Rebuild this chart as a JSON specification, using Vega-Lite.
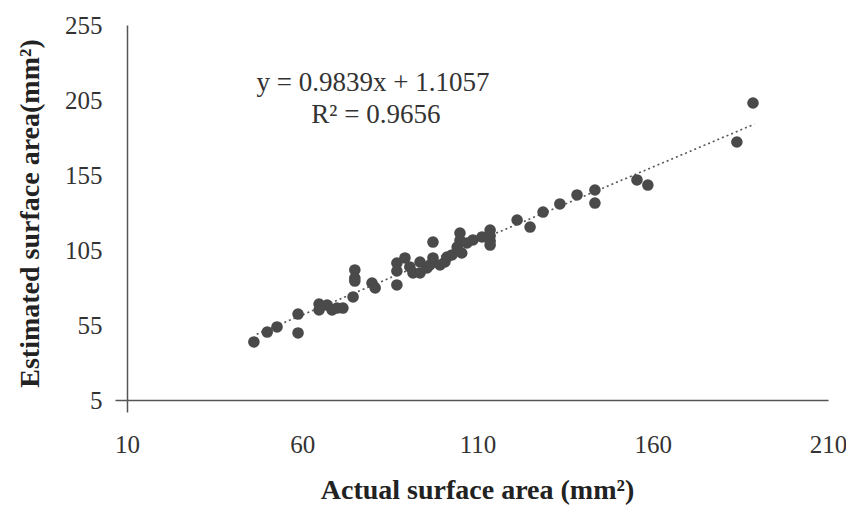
{
  "$schema": "https://vega.github.io/schema/vega-lite/v6.json",
  "width": 701,
  "height": 375,
  "autosize": {"type": "none"},
  "padding": {"left": 127, "top": 25, "right": 18, "bottom": 106},
  "background": "white",
  "config": {
    "view": {"stroke": null},
    "font": "Liberation Serif"
  },
  "datasets": {
    "pts": [
      {"actual": 46.2, "estimated": 43.7},
      {"actual": 50.0, "estimated": 50.3},
      {"actual": 52.8, "estimated": 53.7},
      {"actual": 58.8, "estimated": 62.3},
      {"actual": 58.8, "estimated": 49.7},
      {"actual": 64.8, "estimated": 69.0},
      {"actual": 64.8, "estimated": 65.0},
      {"actual": 67.1, "estimated": 68.3},
      {"actual": 68.5, "estimated": 65.0},
      {"actual": 69.9, "estimated": 66.3},
      {"actual": 71.6, "estimated": 66.3},
      {"actual": 74.5, "estimated": 73.7},
      {"actual": 75.0, "estimated": 91.7},
      {"actual": 75.0, "estimated": 86.3},
      {"actual": 75.0, "estimated": 84.3},
      {"actual": 79.9, "estimated": 83.0},
      {"actual": 80.8, "estimated": 79.7},
      {"actual": 87.0, "estimated": 96.3},
      {"actual": 87.0, "estimated": 81.7},
      {"actual": 87.0, "estimated": 91.0},
      {"actual": 89.3, "estimated": 99.7},
      {"actual": 90.7, "estimated": 93.7},
      {"actual": 91.6, "estimated": 89.7},
      {"actual": 93.6, "estimated": 97.0},
      {"actual": 93.6, "estimated": 89.7},
      {"actual": 95.6, "estimated": 93.0},
      {"actual": 96.4, "estimated": 95.0},
      {"actual": 97.3, "estimated": 110.3},
      {"actual": 97.3, "estimated": 99.7},
      {"actual": 99.3, "estimated": 95.0},
      {"actual": 100.7, "estimated": 97.0},
      {"actual": 101.3, "estimated": 100.3},
      {"actual": 102.7, "estimated": 101.7},
      {"actual": 104.2, "estimated": 107.0},
      {"actual": 105.0, "estimated": 116.3},
      {"actual": 105.0, "estimated": 111.5},
      {"actual": 105.5, "estimated": 103.0},
      {"actual": 107.0, "estimated": 109.7},
      {"actual": 108.7, "estimated": 111.7},
      {"actual": 111.3, "estimated": 113.7},
      {"actual": 113.6, "estimated": 118.3},
      {"actual": 113.6, "estimated": 114.5},
      {"actual": 113.6, "estimated": 111.0},
      {"actual": 113.6, "estimated": 108.3},
      {"actual": 121.3, "estimated": 125.0},
      {"actual": 125.0, "estimated": 120.3},
      {"actual": 128.7, "estimated": 130.3},
      {"actual": 133.5, "estimated": 135.7},
      {"actual": 138.4, "estimated": 141.7},
      {"actual": 143.5, "estimated": 145.0},
      {"actual": 143.5, "estimated": 136.3},
      {"actual": 155.5, "estimated": 151.7},
      {"actual": 158.6, "estimated": 148.3},
      {"actual": 184.0, "estimated": 177.0},
      {"actual": 188.6, "estimated": 203.0}
    ],
    "notes": [
      {"actual": 80.2, "estimated": 216.3, "label": "y = 0.9839x + 1.1057"},
      {"actual": 81.0, "estimated": 195.0, "label": "R² = 0.9656"}
    ]
  },
  "layer": [
    {
      "data": {"name": "pts"},
      "transform": [
        {"regression": "estimated", "on": "actual", "extent": [47, 189]}
      ],
      "mark": {"type": "line", "color": "#555555", "strokeWidth": 1.6, "strokeDash": [2, 3]},
      "encoding": {
        "x": {"field": "actual", "type": "quantitative"},
        "y": {"field": "estimated", "type": "quantitative"}
      }
    },
    {
      "data": {"name": "pts"},
      "mark": {"type": "circle", "size": 135, "color": "#4a4a4a", "opacity": 1},
      "encoding": {
        "x": {
          "field": "actual",
          "type": "quantitative",
          "scale": {"domain": [10, 210], "nice": false, "zero": false},
          "axis": {
            "values": [10, 60, 110, 160, 210],
            "grid": false,
            "labelFlush": false,
            "labelOverlap": false,
            "domainColor": "#555555",
            "domainWidth": 1.5,
            "tickSize": 12,
            "tickWidth": 1.5,
            "tickColor": {"condition": {"test": "datum.value == 10", "value": "#555555"}, "value": "transparent"},
            "labelFont": "Liberation Serif",
            "labelFontSize": 25,
            "labelColor": "#333333",
            "labelPadding": 20,
            "title": "Actual surface area (mm²)",
            "titleFont": "Liberation Serif",
            "titleFontSize": 28,
            "titleFontWeight": "bold",
            "titleColor": "#222222",
            "titleX": 350,
            "titleY": 90,
            "titleBaseline": "middle"
          }
        },
        "y": {
          "field": "estimated",
          "type": "quantitative",
          "scale": {"domain": [5, 255], "nice": false, "zero": false},
          "axis": {
            "values": [5, 55, 105, 155, 205, 255],
            "grid": false,
            "labelFlush": false,
            "labelOverlap": false,
            "domainColor": "#555555",
            "domainWidth": 1.5,
            "tickSize": 12,
            "tickWidth": 1.5,
            "tickColor": {"condition": {"test": "datum.value == 5", "value": "#555555"}, "value": "transparent"},
            "labelFont": "Liberation Serif",
            "labelFontSize": 25,
            "labelColor": "#333333",
            "labelPadding": 13,
            "title": "Estimated surface area(mm²)",
            "titleFont": "Liberation Serif",
            "titleFontSize": 28,
            "titleFontWeight": "bold",
            "titleColor": "#222222",
            "titleAngle": 270,
            "titleX": -97,
            "titleY": 188,
            "titleAlign": "center",
            "titleBaseline": "middle"
          }
        }
      }
    },
    {
      "data": {"name": "notes"},
      "mark": {"type": "text", "font": "Liberation Serif", "fontSize": 27, "color": "#333333", "align": "center", "baseline": "middle"},
      "encoding": {
        "x": {"field": "actual", "type": "quantitative"},
        "y": {"field": "estimated", "type": "quantitative"},
        "text": {"field": "label"}
      }
    }
  ]
}
